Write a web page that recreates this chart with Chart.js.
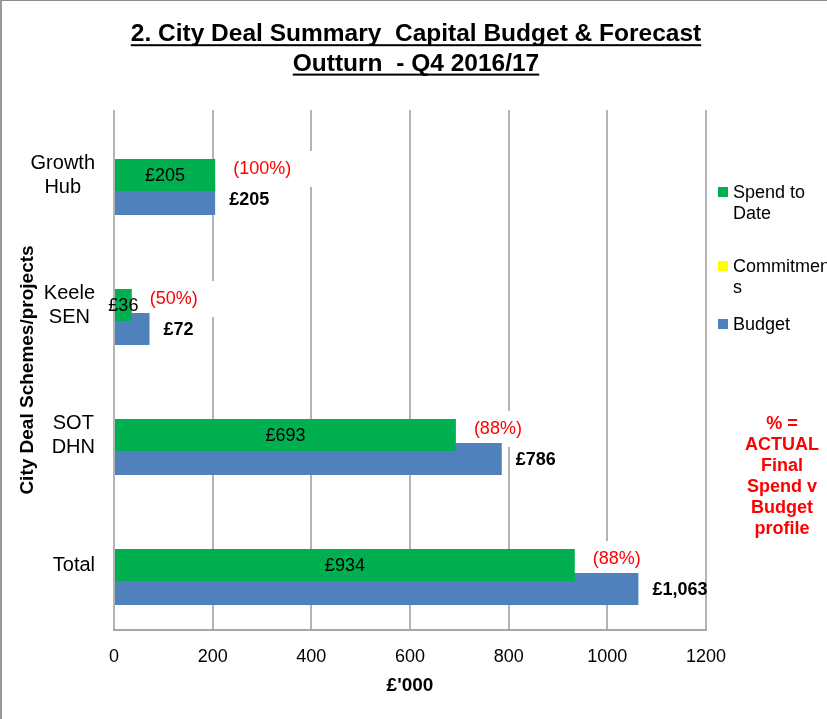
<!DOCTYPE html>
<html lang="en">
<head>
<meta charset="UTF-8">
<title>City Deal Summary</title>
<script src="https://cdn.jsdelivr.net/npm/chart.js"></script>
<style>
  html, body { margin: 0; padding: 0; overflow: hidden; background: #fff; }
  .wrap { position: relative; width: 827px; height: 719px; font-family: Arial, "Liberation Sans", sans-serif; }
  .frame { position: absolute; left: 0; top: 0; width: 827px; height: 719px; border-left: 2px solid #9a9a9a; border-top: 1px solid #8c8c8c; box-sizing: border-box; pointer-events: none; }
  .legend-item { position: absolute; left: 718px; width: 120px; font-size: 18px; line-height: 20.7px; }
  .legend-item .box { position: absolute; left: 0; top: 5px; width: 10px; height: 10px; }
  .legend-item .txt { position: absolute; left: 15px; width: 104px; overflow-wrap: anywhere; }
  .note { position: absolute; left: 737px; top: 413px; width: 90px; text-align: center; color: #ff0000; font-weight: bold; font-size: 18px; line-height: 21px; }
</style>
</head>
<body>
<div class="wrap">
  <canvas id="myCanvas" width="827" height="719"></canvas>
  <div id="legend"></div>
  <div class="note">% =<br>ACTUAL<br>Final<br>Spend v<br>Budget<br>profile</div>
  <div class="frame"></div>
</div>
<script>
  const titleLines = ["2. City Deal Summary  Capital Budget & Forecast", "Outturn  - Q4 2016/17"];
  const categories = [["Growth", "Hub"], ["Keele", "SEN"], ["SOT", "DHN"], "Total"];
  const spendToDate = [205, 36, 693, 934];
  const commitments = [0, 0, 0, 0];
  const budget = [205, 72, 786, 1063];
  const xMax = 1200;
  const xStep = 200;

  const FONT = 'Arial, "Liberation Sans", sans-serif';
  Chart.defaults.font.family = FONT;
  Chart.defaults.color = '#000';

  function money(v) {
    return '£' + v.toLocaleString('en-GB');
  }

  // category names: each block centred on itself, blocks right aligned next to the axis
  const categoryLabels = {
    id: 'categoryLabels',
    afterDraw(chart) {
      const ctx = chart.ctx;
      const scale = chart.scales.y;
      const right = scale.right - 19;
      const lh = 24;
      ctx.save();
      ctx.font = '20px ' + FONT;
      ctx.fillStyle = '#000';
      ctx.textAlign = 'center';
      ctx.textBaseline = 'middle';
      chart.data.labels.forEach((lab, i) => {
        const lines = Array.isArray(lab) ? lab : [lab];
        const w = Math.max(...lines.map(l => ctx.measureText(l).width));
        const cx = right - w / 2;
        const cy = scale.getPixelForTick(i);
        lines.forEach((l, j) => {
          ctx.fillText(l, cx, cy + (j - (lines.length - 1) / 2) * lh);
        });
      });
      ctx.restore();
    }
  };

  // labels on the bars: value inside green, red % next to it, bold budget after blue
  const barLabels = {
    id: 'barLabels',
    beforeDatasetsDraw(chart) {
      const ctx = chart.ctx;
      const green = chart.getDatasetMeta(1).data;
      ctx.save();
      ctx.font = '18px ' + FONT;
      green.forEach((bar, i) => {
        const txt = '(' + Math.round(spendToDate[i] / budget[i] * 100) + '%)';
        const w = ctx.measureText(txt).width;
        const x = bar.x + 18;
        const y = bar.y - 6;
        ctx.fillStyle = '#fff';
        ctx.fillRect(x - 8, y - 18, w + 30, 36);
      });
      ctx.restore();
    },
    afterDatasetsDraw(chart) {
      const ctx = chart.ctx;
      const green = chart.getDatasetMeta(1).data;
      const blue = chart.getDatasetMeta(2).data;
      ctx.save();
      ctx.textBaseline = 'middle';
      green.forEach((bar, i) => {
        ctx.font = '18px ' + FONT;
        ctx.fillStyle = '#000';
        ctx.textAlign = 'center';
        ctx.fillText(money(spendToDate[i]), (bar.x + bar.base) / 2, bar.y + 1);

        ctx.fillStyle = '#ff0000';
        ctx.textAlign = 'left';
        ctx.fillText('(' + Math.round(spendToDate[i] / budget[i] * 100) + '%)', bar.x + 18, bar.y - 6);
      });
      blue.forEach((bar, i) => {
        ctx.font = 'bold 18px ' + FONT;
        ctx.fillStyle = '#000';
        ctx.textAlign = 'left';
        ctx.fillText(money(budget[i]), bar.x + 14, bar.y + 1);
      });
      ctx.restore();
    }
  };

  // underline the chart title
  const titleUnderline = {
    id: 'titleUnderline',
    afterDraw(chart) {
      const t = chart.titleBlock;
      if (!t) return;
      const ctx = chart.ctx;
      const size = 24.5;
      const lh = size * 1.2;
      const cx = (t.left + t.right) / 2;
      ctx.save();
      ctx.font = 'bold ' + size + 'px ' + FONT;
      ctx.fillStyle = '#000';
      titleLines.forEach((line, i) => {
        const w = ctx.measureText(line).width;
        const mid = t.top + t._padding.top + lh / 2 + i * lh;
        ctx.fillRect(cx - w / 2, mid + 9.5, w, 2);
      });
      ctx.restore();
    }
  };

  const chart = new Chart(document.getElementById('myCanvas'), {
    type: 'bar',
    data: {
      labels: categories,
      datasets: [
        { label: 'Commitments', data: commitments, backgroundColor: '#FFFF00' },
        { label: 'Spend to Date', data: spendToDate, backgroundColor: '#00B050' },
        { label: 'Budget', data: budget, backgroundColor: '#4F81BD' }
      ]
    },
    options: {
      indexAxis: 'y',
      responsive: false,
      animation: false,
      devicePixelRatio: 1,
      datasets: {
        bar: { categoryPercentage: 0.554, barPercentage: 1.333, borderWidth: 0 }
      },
      layout: { padding: { left: 5, top: 0, right: 0, bottom: 0 } },
      plugins: {
        legend: { display: false },
        tooltip: { enabled: false },
        title: {
          display: true,
          text: titleLines,
          color: '#000',
          font: { size: 24.5, weight: 'bold', lineHeight: 1.2 },
          padding: { top: 20, bottom: 31.2 }
        }
      },
      scales: {
        x: {
          min: 0,
          max: xMax,
          ticks: { stepSize: xStep, padding: 16, color: '#000', font: { size: 18 }, callback: v => String(v) },
          grid: { color: '#b4b4b4', lineWidth: 2, drawTicks: false },
          border: { display: true, color: '#a6a6a6', width: 2 },
          title: { display: true, text: "£'000", color: '#000', font: { size: 19, weight: 'bold', lineHeight: 1.2 }, padding: { top: 0, bottom: 22 } },
          afterFit(s) { s.height = 89; }
        },
        y: {
          ticks: { display: false },
          grid: { display: false, drawTicks: false },
          border: { display: false },
          title: { display: true, text: 'City Deal Schemes/projects', color: '#000', font: { size: 19, weight: 'bold', lineHeight: 1.2 }, padding: { top: 11, bottom: 0 } },
          afterFit(s) { s.width = 109; }
        },
        side: {
          type: 'linear',
          position: 'right',
          display: true,
          grid: { display: false, drawTicks: false },
          border: { display: false },
          ticks: { display: false },
          afterFit(s) { s.width = 121; }
        }
      }
    },
    plugins: [categoryLabels, barLabels, titleUnderline]
  });

  // legend on the right, built from the datasets
  const legendOrder = [1, 0, 2];
  const legendTops = [182, 256, 314];
  const legendEl = document.getElementById('legend');
  legendOrder.forEach((di, k) => {
    const ds = chart.data.datasets[di];
    const item = document.createElement('div');
    item.className = 'legend-item';
    item.style.top = legendTops[k] + 'px';
    item.innerHTML = '<span class="box" style="background:' + ds.backgroundColor + '"></span><span class="txt">' + ds.label + '</span>';
    legendEl.appendChild(item);
  });
</script>
</body>
</html>
